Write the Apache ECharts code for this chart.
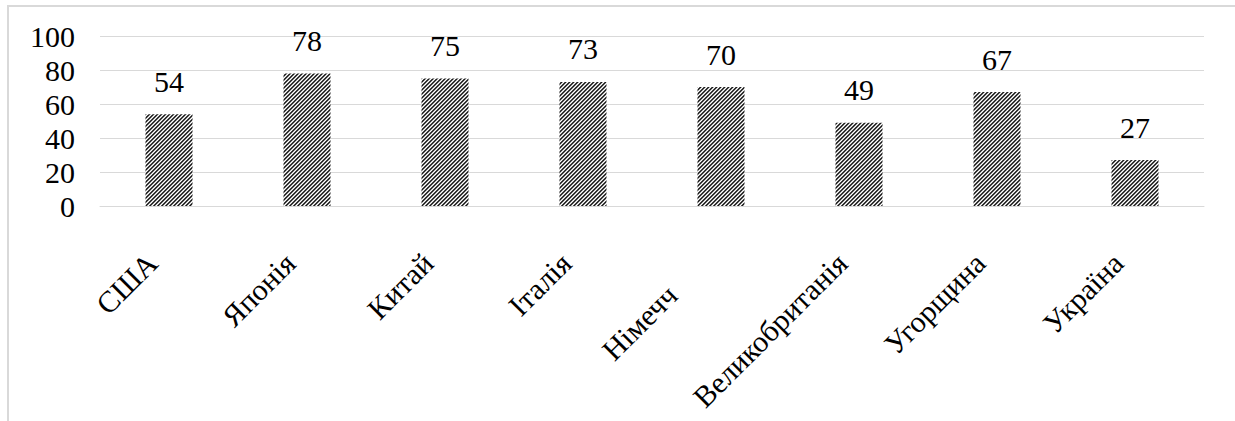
<!DOCTYPE html>
<html>
<head>
<meta charset="utf-8">
<script src="https://cdn.jsdelivr.net/npm/echarts@6/dist/echarts.min.js"></script>
<style>
html,body{margin:0;padding:0;background:#fff;}
#chart{width:1235px;height:421px;}
</style>
</head>
<body>
<div id="chart"></div>
<script>
const categories = ['США', 'Японія', 'Китай', 'Італія', 'Німеччина', 'Великобританія', 'Угорщина', 'Україна'];
const values = [54, 78, 75, 73, 70, 49, 67, 27];
const yTicks = [0, 20, 40, 60, 80, 100];

// hatch pattern: dense upward diagonal stripes
const tile = document.createElement('canvas');
tile.width = 4; tile.height = 4;
const tctx = tile.getContext('2d');
tctx.fillStyle = '#ffffff';
tctx.fillRect(0, 0, 4, 4);
for (let x = 0; x < 4; x++) {
  for (let y = 0; y < 4; y++) {
    const k = (x + y) % 4;
    if (k === 3) { tctx.fillStyle = '#1a1a1a'; tctx.fillRect(x, y, 1, 1); }
    else if (k === 2) { tctx.fillStyle = '#555555'; tctx.fillRect(x, y, 1, 1); }
    else if (k === 0) { tctx.fillStyle = '#b0b0b0'; tctx.fillRect(x, y, 1, 1); }
  }
}

const FONT = "'Liberation Serif', Tinos, 'Times New Roman', Times, 'Nimbus Roman', 'Noto Serif', 'DejaVu Serif', serif";
const chart = echarts.init(document.getElementById('chart'), null, {renderer: 'svg'});
chart.setOption({
  animation: false,
  backgroundColor: '#ffffff',
  textStyle: {fontFamily: FONT},
  grid: {left: 100, right: 31, top: 36, bottom: 215, containLabel: false},
  graphic: [{
    type: 'rect',
    shape: {x: 8, y: 6, width: 1400, height: 600},
    style: {fill: 'none', stroke: '#d9d9d9', lineWidth: 2},
    silent: true
  }],
  xAxis: {
    type: 'category',
    data: categories,
    axisLine: {show: true, lineStyle: {color: '#d9d9d9', width: 1}},
    axisTick: {show: false},
    axisLabel: {
      interval: 0,
      rotate: 45,
      margin: 35,
      padding: [0, 24, 0, 0],
      color: '#000',
      fontFamily: FONT,
      fontSize: 30,
      formatter: function (v) {
        if (v === 'Німеччина') return '{a|Німечч}{h|ина}';
        return v;
      },
      rich: {
        a: {fontFamily: FONT, fontSize: 30, color: '#000'},
        h: {fontFamily: FONT, fontSize: 30, color: 'rgba(0,0,0,0)'}
      }
    }
  },
  yAxis: {
    type: 'value',
    min: yTicks[0],
    max: yTicks[yTicks.length - 1],
    interval: 20,
    axisLine: {show: false},
    axisTick: {show: false},
    splitLine: {lineStyle: {color: '#d9d9d9', width: 1}},
    axisLabel: {margin: 25, color: '#000', fontFamily: FONT, fontSize: 30}
  },
  series: [{
    type: 'bar',
    data: values,
    barWidth: 47,
    itemStyle: {color: {image: tile, repeat: 'repeat'}},
    label: {
      show: true,
      position: 'top',
      distance: 18,
      color: '#000',
      fontFamily: FONT,
      fontSize: 30
    }
  }]
});
</script>
</body>
</html>
